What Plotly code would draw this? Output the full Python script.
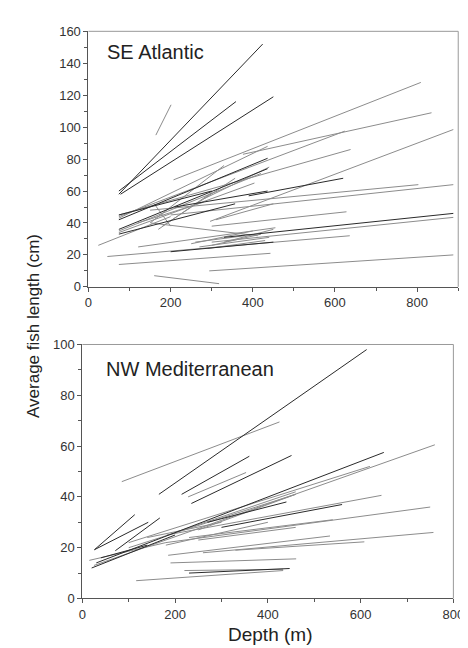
import plotly.graph_objects as go

# ---------------- DATA ----------------
# SE Atlantic segments: depth start/end (m), length start/end (cm), shade (k=dark, g=gray)
top_x0 = [74, 74, 78, 164, 207, 376, 74, 296, 74, 390, 150, 200, 300, 330, 300, 46, 294, 74, 160, 121,
          74, 74, 74, 74, 74, 74, 74, 24, 210, 150, 180, 160, 170, 152, 250, 270, 290, 200, 300, 260, 310, 280, 120, 330]
top_y0 = [58, 60, 58, 95, 67, 83, 44, 41, 45, 57, 48, 45, 38, 31, 28, 19, 10, 14, 7, 25,
          45, 43, 42, 36, 35, 34, 33, 26, 50, 40, 38, 52, 36, 40, 27, 25, 24, 22, 26, 28, 42, 55, 40, 28]
top_x1 = [424, 359, 450, 201, 809, 835, 624, 888, 638, 620, 803, 888, 628, 888, 888, 636, 888, 443, 318, 455,
          300, 436, 436, 436, 420, 404, 357, 200, 436, 330, 357, 200, 300, 412, 400, 440, 430, 450, 420, 380, 450, 440, 280, 450]
top_y1 = [152, 116, 119, 114, 128, 109, 97.5, 98.5, 86, 68, 64, 64, 47, 46, 43.5, 32, 20, 21, 2, 37,
          60, 88, 80.5, 74, 71, 65, 52, 44, 60, 76, 68, 38, 59, 32, 35, 31, 29, 28, 33, 32, 52, 75, 53, 36]
top_shade = ["k", "k", "k", "g", "g", "g", "g", "g", "g", "k", "g", "g", "g", "k", "g", "g", "g", "g", "g", "g",
             "k", "g", "k", "k", "g", "g", "k", "g", "k", "g", "g", "g", "g", "g", "g", "g", "g", "k", "g", "g", "g", "g", "g", "g"]

# NW Mediterranean segments
bot_x0 = [165, 85, 214, 228, 235, 26, 26, 71, 25, 30, 15, 20, 40, 100, 182, 180, 260, 185, 330, 190,
          230, 116, 220, 180, 230, 250, 300, 200, 250, 140, 270, 100]
bot_y0 = [41, 46, 41, 40, 37.4, 19.2, 19.2, 18.8, 13, 14, 15, 12, 16, 22, 25, 22, 18, 17, 19, 14,
          10, 7, 11, 21, 24, 23, 28, 26, 27, 24, 30, 20]
bot_x1 = [613, 425, 360, 353, 451, 113, 142, 167, 760, 650, 180, 200, 140, 620, 645, 750, 757, 534, 608, 461,
          447, 433, 433, 400, 540, 460, 560, 460, 460, 300, 440, 460]
bot_y1 = [98, 69.5, 56, 49.6, 56.3, 33, 30, 31.7, 60.5, 57.5, 22, 25, 21, 52, 40.6, 36, 26, 24.6, 22.3, 15.6,
          11.8, 11, 11.5, 30, 31, 28, 37, 42, 41, 30, 38, 41]
bot_shade = ["k", "g", "k", "g", "k", "k", "k", "k", "g", "k", "g", "k", "k", "g", "g", "g", "g", "g", "g", "g",
             "k", "g", "g", "g", "g", "g", "k", "g", "g", "g", "k", "g"]

x_ticks_top = [0, 200, 400, 600, 800]
y_ticks_top = [0, 20, 40, 60, 80, 100, 120, 140, 160]
x_ticks_bot = [0, 200, 400, 600, 800]
y_ticks_bot = [0, 20, 40, 60, 80, 100]

COLORS = {"k": "#2a2a2a", "g": "#8c8c8c"}


def seg_traces(x0, y0, x1, y1, shade, xa, ya):
    traces = []
    for s in ["g", "k"]:
        xs, ys = [], []
        for a, b, c, d, sh in zip(x0, y0, x1, y1, shade):
            if sh == s:
                xs += [a, c, None]
                ys += [b, d, None]
        traces.append(go.Scatter(x=xs, y=ys, mode="lines", xaxis=xa, yaxis=ya,
                                 line=dict(color=COLORS[s], width=1), hoverinfo="skip",
                                 showlegend=False))
    return traces


fig = go.Figure()
for t in seg_traces(top_x0, top_y0, top_x1, top_y1, top_shade, "x", "y"):
    fig.add_trace(t)
for t in seg_traces(bot_x0, bot_y0, bot_x1, bot_y1, bot_shade, "x2", "y2"):
    fig.add_trace(t)

W, H = 468, 648
top_dom_x = [79 / W, 461 / W]
top_dom_y = [1 - 278.3 / H, 1 - 16.7 / H]
bot_dom_x = [72.7 / W, 456 / W]
bot_dom_y = [1 - 597.3 / H, 1 - 337.3 / H]

tickfont = dict(family="Liberation Sans, Arial, sans-serif", size=13, color="#333")
common = dict(showgrid=False, zeroline=False, showline=True, linecolor="#555", linewidth=1,
              ticks="outside", ticklen=4, tickcolor="#555", tickfont=tickfont)

fig.update_layout(
    width=W, height=H, margin=dict(l=0, r=0, t=0, b=0),
    plot_bgcolor="white", paper_bgcolor="white",
    xaxis=dict(domain=top_dom_x, range=[0, 900], anchor="y", tickvals=x_ticks_top,
               minor=dict(dtick=100, ticklen=3, ticks="outside", tickcolor="#555"), **common),
    yaxis=dict(domain=top_dom_y, range=[0, 160], anchor="x", tickvals=y_ticks_top,
               minor=dict(dtick=10, ticklen=3, ticks="outside", tickcolor="#555"), **common),
    xaxis2=dict(domain=bot_dom_x, range=[0, 800], anchor="y2", tickvals=x_ticks_bot,
                minor=dict(dtick=100, ticklen=3, ticks="outside", tickcolor="#555"), **common),
    yaxis2=dict(domain=bot_dom_y, range=[0, 100], anchor="x2", tickvals=y_ticks_bot,
                minor=dict(dtick=10, ticklen=3, ticks="outside", tickcolor="#555"), **common),
)

# light frame (top/right edges)
for xd, yd in [(top_dom_x, top_dom_y), (bot_dom_x, bot_dom_y)]:
    fig.add_shape(type="line", xref="paper", yref="paper", x0=xd[0], x1=xd[1], y0=yd[1], y1=yd[1],
                  line=dict(color="#999", width=1))
    fig.add_shape(type="line", xref="paper", yref="paper", x0=xd[1], x1=xd[1], y0=yd[0], y1=yd[1],
                  line=dict(color="#999", width=1))

fam = "Liberation Sans, Arial, sans-serif"
fig.add_annotation(text="SE Atlantic", xref="paper", yref="paper", x=96 / W, y=1 - 38 / H,
                   xanchor="left", yanchor="middle", showarrow=False,
                   font=dict(family=fam, size=20, color="#222"))
fig.add_annotation(text="NW Mediterranean", xref="paper", yref="paper", x=95 / W, y=1 - 362 / H,
                   xanchor="left", yanchor="middle", showarrow=False,
                   font=dict(family=fam, size=20, color="#222"))
fig.add_annotation(text="Average fish length (cm)", xref="paper", yref="paper", x=22 / W, y=1 - 318 / H,
                   xanchor="center", yanchor="middle", textangle=-90, showarrow=False,
                   font=dict(family=fam, size=17, color="#222"))
fig.add_annotation(text="Depth (m)", xref="paper", yref="paper", x=267 / W, y=1 - 634 / H,
                   xanchor="center", yanchor="middle", showarrow=False,
                   font=dict(family=fam, size=19, color="#222"))

fig.write_html("out.html")
